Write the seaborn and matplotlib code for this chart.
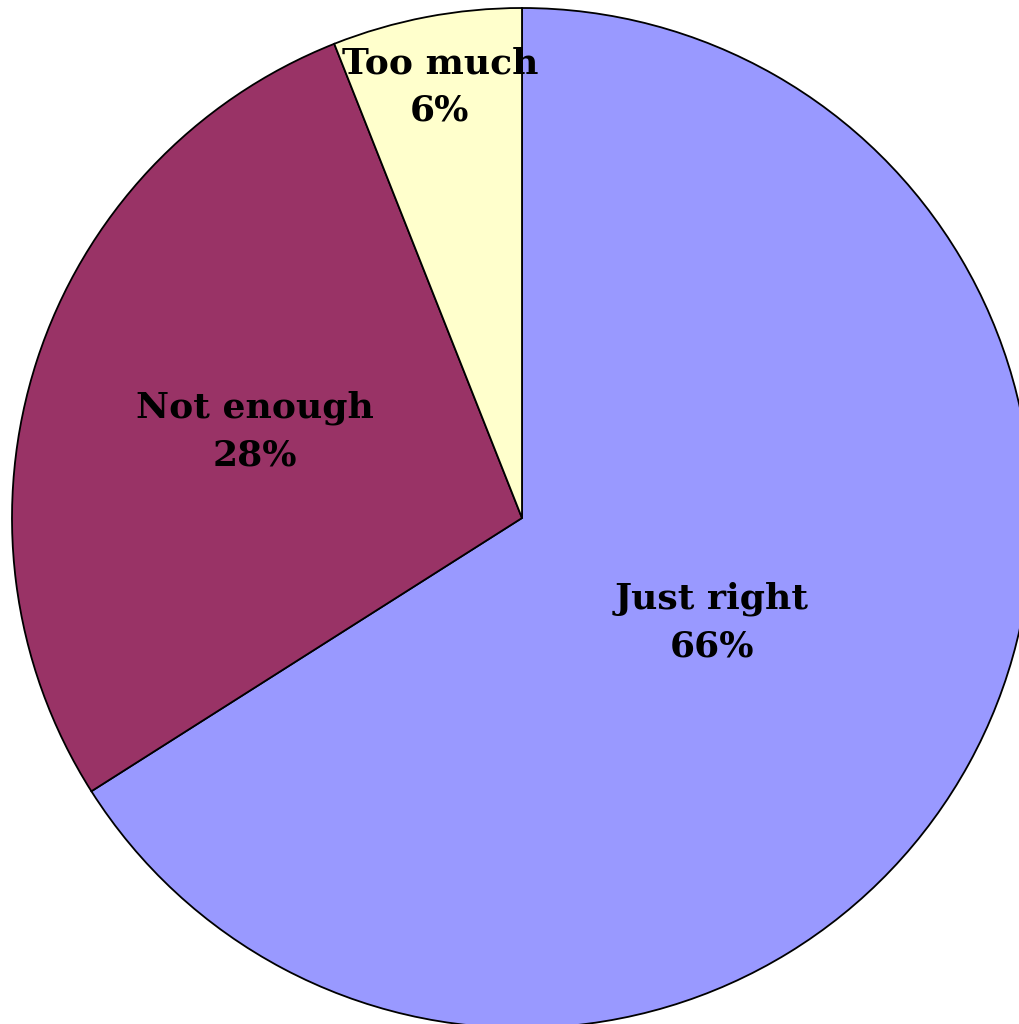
import matplotlib
matplotlib.use("Agg")
import matplotlib.pyplot as plt
import seaborn as sns
import numpy as np

categories = ["Just right", "Not enough", "Too much"]
shares = [66, 28, 6]
colors = ["#9999FF", "#993366", "#FFFFCC"]
# radial position of each label, as a fraction of the radius
label_radius = [0.425, 0.55, 0.86]

sns.set_theme(style="white")
plt.rcParams["font.family"] = ["DejaVu Serif"]

fig = plt.figure(figsize=(10.2, 10.24), dpi=100)
ax = fig.add_axes([0, 0, 1, 1])

wedges, _ = ax.pie(
    shares,
    colors=colors,
    startangle=90,
    counterclock=False,
    radius=1.0,
    wedgeprops=dict(edgecolor="black", linewidth=1.3),
)

for w, name, val, r in zip(wedges, categories, shares, label_radius):
    mid = np.deg2rad((w.theta1 + w.theta2) / 2)
    ax.text(r * np.cos(mid), r * np.sin(mid), f"{name}\n{val}%",
            ha="center", va="center", fontsize=26, fontweight="bold",
            linespacing=1.5, color="black", zorder=5)

ax.set_aspect("auto")
ax.set_xlim(-522 / 510, (1020 - 522) / 510)
ax.set_ylim(-(1024 - 518) / 510, 518 / 510)
ax.axis("off")

fig.savefig("out.png", dpi=100, facecolor="white")
